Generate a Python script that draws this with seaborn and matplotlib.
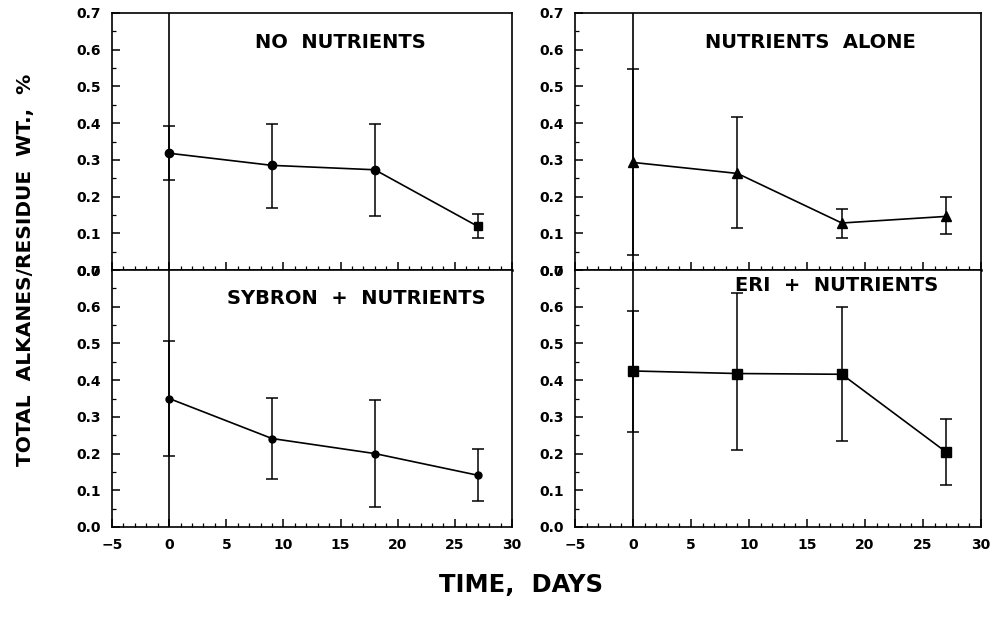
import matplotlib
matplotlib.use("Agg")
import matplotlib.pyplot as plt
from matplotlib.ticker import MultipleLocator, FormatStrFormatter
import seaborn as sns
import pandas as pd

days = [0, 9, 18, 27]

titles = ["NO  NUTRIENTS", "NUTRIENTS  ALONE", "SYBRON  +  NUTRIENTS", "ERI  +  NUTRIENTS"]

no_nutr = [0.318, 0.285, 0.273, 0.119]
no_nutr_lo = [0.245, 0.170, 0.146, 0.087]
no_nutr_hi = [0.393, 0.399, 0.399, 0.152]

nutr_alone = [0.293, 0.263, 0.128, 0.146]
nutr_alone_lo = [0.042, 0.114, 0.087, 0.098]
nutr_alone_hi = [0.548, 0.418, 0.166, 0.199]

sybron = [0.350, 0.241, 0.200, 0.141]
sybron_lo = [0.194, 0.132, 0.055, 0.070]
sybron_hi = [0.506, 0.352, 0.345, 0.213]

eri = [0.425, 0.418, 0.416, 0.204]
eri_lo = [0.258, 0.211, 0.235, 0.114]
eri_hi = [0.589, 0.636, 0.598, 0.295]

markers = [["o", "o", "o", "s"], ["^", "^", "^", "^"], ["o", "o", "o", "o"], ["s", "s", "s", "s"]]
msizes = [6, 6.5, 5, 6.5]

sns.set_style("ticks")
plt.rcParams["font.family"] = ["DejaVu Sans"]
plt.rcParams["font.weight"] = "bold"
plt.rcParams["text.color"] = "black"
plt.rcParams["axes.labelcolor"] = "black"
plt.rcParams["xtick.color"] = "black"
plt.rcParams["ytick.color"] = "black"

fig = plt.figure(figsize=(9.96, 6.31), dpi=100)
W, H = 996, 631
lefts = [112, 575]
widths = [400, 406]
tops = [13, 270]
height = 257

series = [(no_nutr, no_nutr_lo, no_nutr_hi), (nutr_alone, nutr_alone_lo, nutr_alone_hi),
          (sybron, sybron_lo, sybron_hi), (eri, eri_lo, eri_hi)]
title_pos = [(0.57, 0.887), (0.579, 0.887), (0.61, 0.89), (0.645, 0.938)]

for i in range(4):
    r, c = divmod(i, 2)
    ax = fig.add_axes([lefts[c] / W, 1 - (tops[r] + height) / H, widths[c] / W, height / H])
    vals, lo, hi = series[i]
    df = pd.DataFrame({"day": days, "val": vals})
    sns.lineplot(data=df, x="day", y="val", ax=ax, color="black", linewidth=1.2, legend=False)
    ax.errorbar(days, vals,
                yerr=[[v - l for v, l in zip(vals, lo)], [h - v for v, h in zip(vals, hi)]],
                fmt="none", ecolor="black", elinewidth=1.1, capsize=4, capthick=1.1)
    for d, v, m in zip(days, vals, markers[i]):
        ax.plot([d], [v], marker=m, color="black", markersize=msizes[i], linestyle="none")
    ax.axvline(0, color="black", linewidth=1.2)
    ax.set_xlim(-5, 30)
    ax.set_ylim(0, 0.7)
    ax.xaxis.set_major_locator(MultipleLocator(5))
    ax.xaxis.set_minor_locator(MultipleLocator(1))
    ax.yaxis.set_major_locator(MultipleLocator(0.1))
    ax.yaxis.set_minor_locator(MultipleLocator(0.05))
    ax.yaxis.set_major_formatter(FormatStrFormatter("%.1f"))
    ax.tick_params(axis="both", which="major", direction="in", length=6, width=1.1,
                   labelsize=10, pad=8, colors="black")
    ax.tick_params(axis="both", which="minor", direction="in", length=3, width=0.9)
    for lab in ax.get_xticklabels() + ax.get_yticklabels():
        lab.set_fontweight("heavy")
    for sp in ax.spines.values():
        sp.set_linewidth(1.2)
        sp.set_color("black")
    if r == 0:
        ax.tick_params(axis="x", labelbottom=False)
        ax.spines["bottom"].set_linewidth(1.8)
    ax.set_xlabel("")
    ax.set_ylabel("")
    ax.text(title_pos[i][0], title_pos[i][1], titles[i], transform=ax.transAxes,
            ha="center", va="center", fontsize=14, fontweight="bold", color="black")

fig.text(26 / W, 1 - 270 / H, "TOTAL  ALKANES/RESIDUE  WT.,  %", rotation=90,
         ha="center", va="center", fontsize=14.5, fontweight="bold", color="black")
fig.text(521 / W, 1 - 585 / H, "TIME,  DAYS", ha="center", va="center",
         fontsize=17.5, fontweight="bold", color="black")

fig.savefig("out.png", dpi=100, facecolor="white")
